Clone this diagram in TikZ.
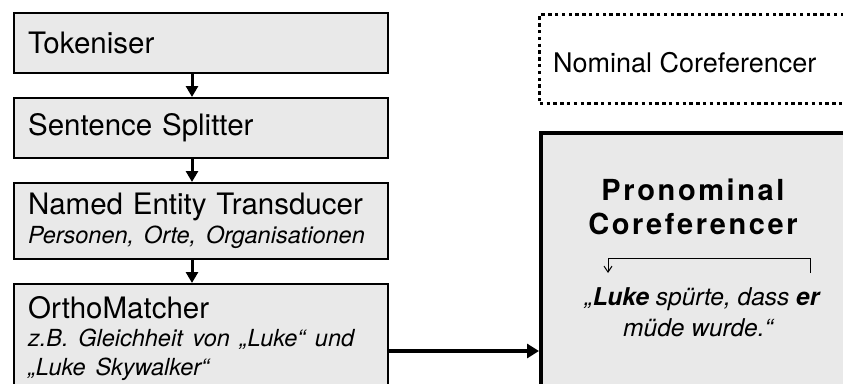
\documentclass[tikz,border=0pt]{standalone}
\usepackage{fontspec}
\setmainfont{TeX Gyre Heros}
\usetikzlibrary{arrows.meta}
\definecolor{boxgray}{RGB}{233,233,233}
\newcommand{\subtext}{\itshape\fontsize{23.5}{28}\selectfont}
\tikzset{
  stage/.style={draw, line width=2.2pt, fill=boxgray, minimum width=374pt,
    text width=346pt, inner xsep=14pt, inner ysep=0pt, align=left,
    anchor=north west, font=\fontsize{29.5}{29}\selectfont},
  flow/.style={line width=3pt, -{Triangle[width=12pt,length=11pt]}},
  bigflow/.style={line width=4pt, -{Triangle[width=14pt,length=12pt]}},
  dotbox/.style={draw, line width=3.4pt, dash pattern=on 3.4pt off 3.4pt,
    anchor=north west, inner sep=0pt},
  corefbox/.style={draw, line width=4pt, fill=boxgray, anchor=north west, inner sep=0pt},
  titletext/.style={anchor=base, inner sep=0pt,
    font=\fontsize{29}{29}\selectfont\bfseries\addfontfeatures{LetterSpace=9}},
  sentence/.style={anchor=base, inner sep=0pt, font=\itshape\fontsize{24.5}{28}\selectfont},
  link/.style={line width=1pt, -{Straight Barb[length=6pt,width=8pt]}}
}
\begin{document}
\begin{tikzpicture}[x=1pt,y=-1pt]
  \useasboundingbox (0,0) rectangle (843,383);
  \fill[white] (0,0) rectangle (843,383);
  \clip (0,0) rectangle (843,383);

  % processing pipeline
  \node[stage, minimum height=60pt] (tok) at (13,12) {Tokeniser};
  \node[stage, minimum height=60pt] (split) at (13,97) {Sentence Splitter};
  \node[stage, minimum height=76pt] (ner) at (13,182)
    {Named Entity Transducer\\ \subtext Personen, Orte, Organisationen};
  \node[stage, minimum height=108pt] (ortho) at (13,283)
    {OrthoMatcher\\ \subtext z.B. Gleichheit von „Luke“ und\\ \subtext „Luke Skywalker“};

  \coordinate (ax) at (192,0);
  \draw[flow] (tok.south -| ax) -- (split.north -| ax);
  \draw[flow] (split.south -| ax) -- (ner.north -| ax);
  \draw[flow] (ner.south -| ax) -- (ortho.north -| ax);

  % coreference modules
  \node[dotbox, minimum width=400pt, minimum height=89pt] (nom) at (538,13) {};
  \node[anchor=base west, inner sep=0pt, font=\fontsize{27}{27}\selectfont]
    (nomtext) at (553,72) {Nominal Coreferencer};

  \node[corefbox, minimum width=400pt, minimum height=300pt] (pron) at (539,131) {};
  \node[titletext] (ptitle1) at (693,200) {Pronominal};
  \node[titletext] (ptitle2) at (693,234) {Coreferencer};
  \node[sentence] (sent1) at (702,305) {„\textbf{Luke} spürte, dass \textbf{er}};
  \node[sentence] (sent2) at (698,336) {müde wurde.“};

  \coordinate (luke) at (608,273);
  \coordinate (er) at (810,273);
  \draw[link] (er) -- ++(0,-15) -| (luke);

  \coordinate (ay) at (0,351);
  \draw[bigflow] (ortho.east |- ay) -- (pron.west |- ay);
\end{tikzpicture}
\end{document}
